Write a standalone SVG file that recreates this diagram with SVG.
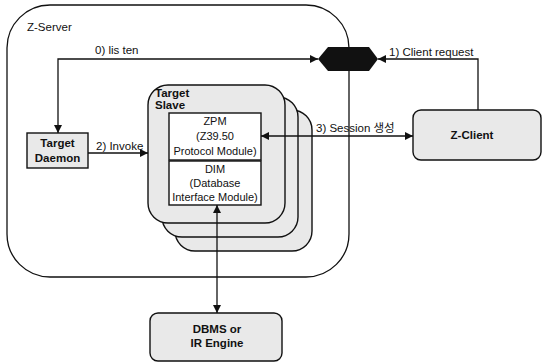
<svg xmlns="http://www.w3.org/2000/svg" width="542" height="362" viewBox="0 0 542 362">
<style>
text{font-family:"Liberation Sans",Arial,"Noto Sans CJK KR",sans-serif;font-size:11.5px;fill:#111}
.b{font-weight:bold}
.m{font-size:11px}
.shade{fill:#e9e9e9;stroke:#111;stroke-width:1.4}
.wbox{fill:#fff;stroke:#111;stroke-width:1.4}
.c{fill:none;stroke:#111;stroke-width:1.3}
</style>
<defs>
<marker id="ah" viewBox="0 0 10 10" refX="10" refY="5" markerWidth="8" markerHeight="8" markerUnits="userSpaceOnUse" orient="auto-start-reverse">
<path d="M0,0L10,5L0,10z" fill="#111"/>
</marker>
</defs>
<rect width="542" height="362" fill="#fff"/>
<g id="z-server">
<rect x="7" y="5" width="342" height="272" rx="43" fill="#fff" stroke="#111" stroke-width="1.3"/>
<text x="27" y="31">Z-Server</text>
</g>
<g id="port">
<polygon points="318,59 328,47 369,47 378,59 369,71 328,71" fill="#111"/>
</g>
<g id="target-daemon">
<rect class="shade" x="27" y="133" width="61" height="35"/>
<text class="b" x="57.5" y="147" text-anchor="middle">Target</text>
<text class="b" x="57.5" y="162" text-anchor="middle">Daemon</text>
</g>
<g id="target-slave">
<rect class="shade" x="175" y="110" width="137" height="141" rx="20"/>
<rect class="shade" x="162" y="97" width="136" height="140" rx="20"/>
<rect class="shade" x="148" y="85" width="137" height="138" rx="20"/>
<text class="b" x="155" y="97">Target</text>
<text class="b" x="155" y="109">Slave</text>
</g>
<g id="zpm">
<rect class="wbox" x="169" y="113" width="92" height="47"/>
<text class="m" x="215" y="125" text-anchor="middle">ZPM</text>
<text class="m" x="215" y="140" text-anchor="middle">(Z39.50</text>
<text class="m" x="215" y="155" text-anchor="middle">Protocol Module)</text>
</g>
<g id="dim">
<rect class="wbox" x="169" y="161" width="92" height="44"/>
<text class="m" x="215" y="173" text-anchor="middle">DIM</text>
<text class="m" x="215" y="187" text-anchor="middle">(Database</text>
<text class="m" x="215" y="201" text-anchor="middle">Interface Module)</text>
</g>
<g id="z-client">
<rect class="shade" x="413" y="110" width="128" height="50" rx="8"/>
<text class="b" x="472" y="139" text-anchor="middle">Z-Client</text>
</g>
<g id="dbms">
<rect class="shade" x="150" y="313" width="132" height="48" rx="8"/>
<text class="b" x="217" y="333" text-anchor="middle">DBMS or</text>
<text class="b" x="217" y="347" text-anchor="middle">IR Engine</text>
</g>
<g id="connectors">
<path class="c" d="M318,59H58V133" marker-start="url(#ah)" marker-end="url(#ah)"/>
<path class="c" d="M478,110V59H378" marker-end="url(#ah)"/>
<path class="c" d="M88,153H148" marker-end="url(#ah)"/>
<path class="c" d="M261,136H413" marker-start="url(#ah)" marker-end="url(#ah)"/>
<path class="c" d="M217,205V313" marker-start="url(#ah)" marker-end="url(#ah)"/>
<text x="95" y="54">0) lis ten</text>
<text x="389" y="56">1) Client request</text>
<text x="96" y="150">2) Invoke</text>
<text x="316" y="132">3) Session 생성</text>
</g>
</svg>
